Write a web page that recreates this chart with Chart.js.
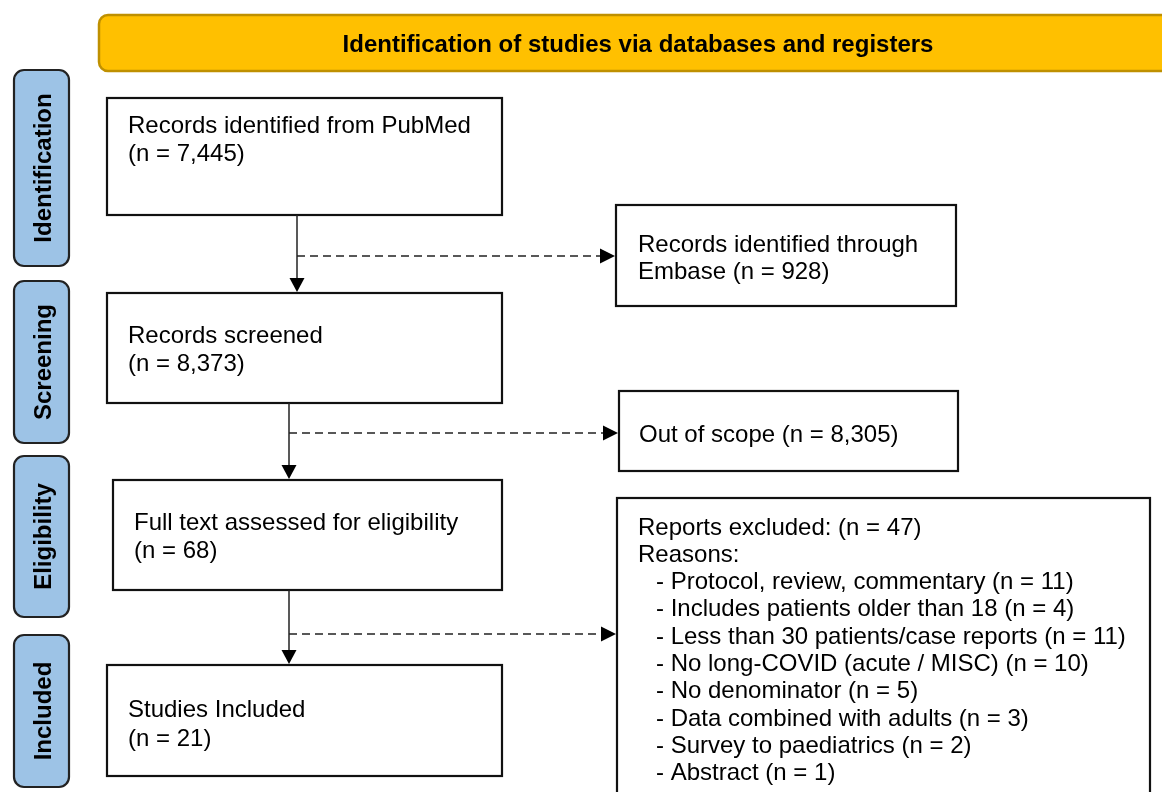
<!DOCTYPE html>
<html>
<head>
<meta charset="utf-8">
<script src="https://cdn.jsdelivr.net/npm/chart.js@4/dist/chart.umd.min.js"></script>
<style>
html,body{margin:0;padding:0;background:#fff;}
#c{display:block;}
</style>
</head>
<body>
<canvas id="c" width="1162" height="792"></canvas>
<script>
// ---------- DATA ----------
const headerTitle = 'Identification of studies via databases and registers';
const stageLabels = ['Identification', 'Screening', 'Eligibility', 'Included'];
const boxKeys = ['pubmed', 'embase', 'screened', 'outOfScope', 'fullText', 'excluded', 'included'];
const boxCounts = [7445, 928, 8373, 8305, 68, 47, 21];
const boxTexts = [
  ['Records identified from PubMed', '(n = {n})'],
  ['Records identified through', 'Embase (n = {n})'],
  ['Records screened', '(n = {n})'],
  ['Out of scope (n = {n})'],
  ['Full text assessed for eligibility', '(n = {n})'],
  ['Reports excluded: (n = {n})', 'Reasons:'],
  ['Studies Included', '(n = {n})']
];
const reasonLabels = [
  'Protocol, review, commentary',
  'Includes patients older than 18',
  'Less than 30 patients/case reports',
  'No long-COVID (acute / MISC)',
  'No denominator',
  'Data combined with adults',
  'Survey to paediatrics',
  'Abstract'
];
const reasonCounts = [11, 4, 11, 10, 5, 3, 2, 1];

// ---------- LAYOUT (positions in diagram units, mapped through the scales) ----------
const layout = {
  header: {x0: 99, y0: 15, x1: 1175, y1: 71, textX: 638, textY: 52},
  stages: [
    {x0: 14, y0: 70, x1: 69, y1: 266},
    {x0: 14, y0: 281, x1: 69, y1: 443},
    {x0: 14, y0: 456, x1: 69, y1: 617},
    {x0: 14, y0: 635, x1: 69, y1: 787}
  ],
  boxes: {
    pubmed:     {x0: 107, y0: 98,  x1: 502,  y1: 215, tx: 128, ty: [133, 161]},
    embase:     {x0: 616, y0: 205, x1: 956,  y1: 306, tx: 638, ty: [252, 279]},
    screened:   {x0: 107, y0: 293, x1: 502,  y1: 403, tx: 128, ty: [343, 371]},
    outOfScope: {x0: 619, y0: 391, x1: 958,  y1: 471, tx: 639, ty: [442]},
    fullText:   {x0: 113, y0: 480, x1: 502,  y1: 590, tx: 134, ty: [530, 558]},
    excluded:   {x0: 617, y0: 498, x1: 1150, y1: 800, tx: 638, ty: [535, 562], rx: 656, ry0: 589, rdy: 27.3},
    included:   {x0: 107, y0: 665, x1: 502,  y1: 776, tx: 128, ty: [717, 746]}
  },
  flows: [
    {x: 297, y0: 215, y1: 293, dashY: 256, dashX1: 616},
    {x: 289, y0: 403, y1: 480, dashY: 433, dashX1: 619},
    {x: 289, y0: 590, y1: 665, dashY: 634, dashX1: 617}
  ]
};

const FONT = 'Arial, "Liberation Sans", Helvetica, sans-serif';

function fmt(n){ return n.toLocaleString('en-US'); }

function roundRect(ctx, x0, y0, x1, y1, r){
  ctx.beginPath();
  ctx.moveTo(x0 + r, y0);
  ctx.lineTo(x1 - r, y0);
  ctx.arcTo(x1, y0, x1, y0 + r, r);
  ctx.lineTo(x1, y1 - r);
  ctx.arcTo(x1, y1, x1 - r, y1, r);
  ctx.lineTo(x0 + r, y1);
  ctx.arcTo(x0, y1, x0, y1 - r, r);
  ctx.lineTo(x0, y0 + r);
  ctx.arcTo(x0, y0, x0 + r, y0, r);
  ctx.closePath();
}

const diagramPlugin = {
  id: 'prisma',
  afterDraw(chart){
    const ctx = chart.ctx;
    const xs = chart.scales.x, ys = chart.scales.y;
    const X = v => xs.getPixelForValue(v);
    const Y = v => ys.getPixelForValue(v);
    ctx.save();

    // header bar
    const h = layout.header;
    roundRect(ctx, X(h.x0), Y(h.y0), X(h.x1), Y(h.y1), 9);
    ctx.fillStyle = '#FFC000';
    ctx.fill();
    ctx.lineWidth = 2.5;
    ctx.strokeStyle = '#BF9000';
    ctx.stroke();
    ctx.fillStyle = '#000';
    ctx.font = 'bold 24px ' + FONT;
    ctx.textAlign = 'center';
    ctx.textBaseline = 'alphabetic';
    ctx.fillText(headerTitle, X(h.textX), Y(h.textY));

    // stage side labels
    stageLabels.forEach((lab, i) => {
      const s = layout.stages[i];
      roundRect(ctx, X(s.x0), Y(s.y0), X(s.x1), Y(s.y1), 10);
      ctx.fillStyle = '#9DC3E6';
      ctx.fill();
      ctx.lineWidth = 2.2;
      ctx.strokeStyle = '#222';
      ctx.stroke();
      ctx.save();
      ctx.translate((X(s.x0) + X(s.x1)) / 2, (Y(s.y0) + Y(s.y1)) / 2);
      ctx.rotate(-Math.PI / 2);
      ctx.fillStyle = '#000';
      ctx.font = 'bold 24px ' + FONT;
      ctx.textAlign = 'center';
      ctx.textBaseline = 'alphabetic';
      ctx.fillText(lab, 0, 9);
      ctx.restore();
    });

    // boxes
    ctx.font = '24px ' + FONT;
    ctx.textAlign = 'left';
    ctx.textBaseline = 'alphabetic';
    boxKeys.forEach((k, i) => {
      const b = layout.boxes[k];
      ctx.fillStyle = '#fff';
      ctx.fillRect(X(b.x0), Y(b.y0), X(b.x1) - X(b.x0), Y(b.y1) - Y(b.y0));
      ctx.lineWidth = 2.2;
      ctx.strokeStyle = '#111';
      ctx.strokeRect(X(b.x0), Y(b.y0), X(b.x1) - X(b.x0), Y(b.y1) - Y(b.y0));
      ctx.fillStyle = '#000';
      boxTexts[i].forEach((t, j) => {
        ctx.fillText(t.replace('{n}', fmt(boxCounts[i])), X(b.tx), Y(b.ty[j]));
      });
      if (k === 'excluded') {
        reasonLabels.forEach((r, j) => {
          ctx.fillText('- ' + r + ' (n = ' + fmt(reasonCounts[j]) + ')', X(b.rx), Y(b.ry0 + j * b.rdy));
        });
      }
    });

    // flows
    ctx.strokeStyle = '#222';
    ctx.fillStyle = '#000';
    layout.flows.forEach(f => {
      ctx.setLineDash([]);
      ctx.lineWidth = 1.5;
      ctx.beginPath();
      ctx.moveTo(X(f.x), Y(f.y0));
      ctx.lineTo(X(f.x), Y(f.y1) - 14);
      ctx.stroke();
      ctx.beginPath();
      ctx.moveTo(X(f.x) - 7.5, Y(f.y1) - 15);
      ctx.lineTo(X(f.x) + 7.5, Y(f.y1) - 15);
      ctx.lineTo(X(f.x), Y(f.y1) - 1);
      ctx.closePath();
      ctx.fill();
      ctx.setLineDash([8, 5]);
      ctx.beginPath();
      ctx.moveTo(X(f.x), Y(f.dashY));
      ctx.lineTo(X(f.dashX1) - 15, Y(f.dashY));
      ctx.stroke();
      ctx.setLineDash([]);
      ctx.beginPath();
      ctx.moveTo(X(f.dashX1) - 16, Y(f.dashY) - 7.5);
      ctx.lineTo(X(f.dashX1) - 16, Y(f.dashY) + 7.5);
      ctx.lineTo(X(f.dashX1) - 1, Y(f.dashY));
      ctx.closePath();
      ctx.fill();
    });

    ctx.restore();
  }
};

new Chart(document.getElementById('c'), {
  type: 'scatter',
  data: {datasets: [{data: [], pointRadius: 0}]},
  options: {
    responsive: false,
    animation: false,
    events: [],
    layout: {padding: 0},
    plugins: {legend: {display: false}, tooltip: {enabled: false}, title: {display: false}},
    scales: {
      x: {type: 'linear', min: 0, max: 1162, display: false},
      y: {type: 'linear', min: 0, max: 792, reverse: true, display: false}
    }
  },
  plugins: [diagramPlugin]
});
</script>
</body>
</html>
